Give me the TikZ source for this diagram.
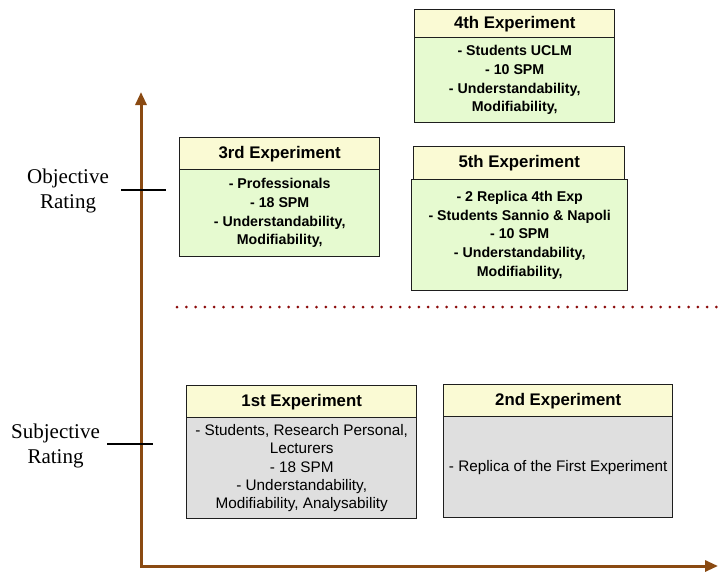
\documentclass[tikz,border=0pt]{standalone}
\usepackage{fontspec}
\setmainfont{Liberation Serif}
\setsansfont{Liberation Sans}
\usetikzlibrary{arrows.meta}
\definecolor{hdrcol}{HTML}{FAFAD4}
\definecolor{greencol}{HTML}{E6FAD0}
\definecolor{graycol}{HTML}{DFDFDF}
\definecolor{axiscol}{HTML}{8A4A12}
\definecolor{dotcol}{HTML}{8B0A0A}
\definecolor{edgecol}{HTML}{1E1E1E}
\begin{document}
\begin{tikzpicture}[x=1pt,y=-1pt,
  box/.style={draw=edgecol, line width=1.4pt, rectangle, inner sep=0pt, anchor=north west, align=center},
  hdr/.style={box, fill=hdrcol, font=\sffamily\bfseries\fontsize{16.8}{19}\selectfont},
  gbody/.style={box, fill=greencol, font=\sffamily\bfseries\fontsize{14.2}{18.6}\selectfont},
  ybody/.style={box, fill=graycol, font=\sffamily\fontsize{15.3}{18.3}\selectfont},
  axis/.style={draw=axiscol, line width=3pt},
  tick/.style={draw=black, line width=2.5pt},
  rating/.style={font=\fontsize{21}{25.5}\selectfont, align=center}]
\useasboundingbox (0,0) rectangle (718,573);
% axes
\coordinate (top) at (141,92);
\coordinate (org) at (141,566);
\coordinate (right) at (718,566);
\draw[axis, {Triangle[length=13pt,width=11pt]}-{Triangle[length=13pt,width=11pt]}] (top) -- (org) -- (right);
% ticks
\coordinate (ot1) at (121,190);
\coordinate (ot2) at (166,190);
\coordinate (st1) at (107,444);
\coordinate (st2) at (153,444);
\draw[tick] (ot1) -- (ot2);
\draw[tick] (st1) -- (st2);
\node[rating] (obj) at (68,191) {Objective\\Rating};
\node[rating] (subj) at (55.5,446) {Subjective\\Rating};
% dotted separator
\coordinate (d1) at (177,307);
\coordinate (d2) at (718,307);
\draw[dotcol, line width=3pt, line cap=round, dash pattern=on 0pt off 9.3pt] (d1) -- (d2);
% 3rd
\node[gbody, minimum width=200pt, minimum height=87pt] (b3) at (179,169) {- Professionals\\- 18 SPM\\- Understandability,\\Modifiability,};
\node[hdr, minimum width=200pt, minimum height=32pt] (h3) at (179,137) {3rd Experiment};
% 4th
\node[gbody, minimum width=200pt, minimum height=85pt] (b4) at (414,37) {- Students UCLM\\- 10 SPM\\- Understandability,\\Modifiability,};
\node[hdr, minimum width=200pt, minimum height=28pt] (h4) at (414,9) {4th Experiment};
% 5th
\node[gbody, minimum width=216pt, minimum height=111pt] (b5) at (411,179) {- 2 Replica 4th Exp\\- Students Sannio \& Napoli\\- 10 SPM\\- Understandability,\\Modifiability,};
\node[hdr, minimum width=211pt, minimum height=33pt] (h5) at (413,146) {5th Experiment};
% 1st
\node[ybody, minimum width=230pt, minimum height=101pt] (b1) at (186,417) {- Students, Research Personal,\\Lecturers\\- 18 SPM\\- Understandability,\\Modifiability, Analysability};
\node[hdr, minimum width=230pt, minimum height=32pt] (h1) at (186,385) {1st Experiment};
% 2nd
\node[ybody, minimum width=229pt, minimum height=101pt] (b2) at (443,416) {- Replica of the First Experiment};
\node[hdr, minimum width=229pt, minimum height=32pt] (h2) at (443,384) {2nd Experiment};
\end{tikzpicture}
\end{document}
